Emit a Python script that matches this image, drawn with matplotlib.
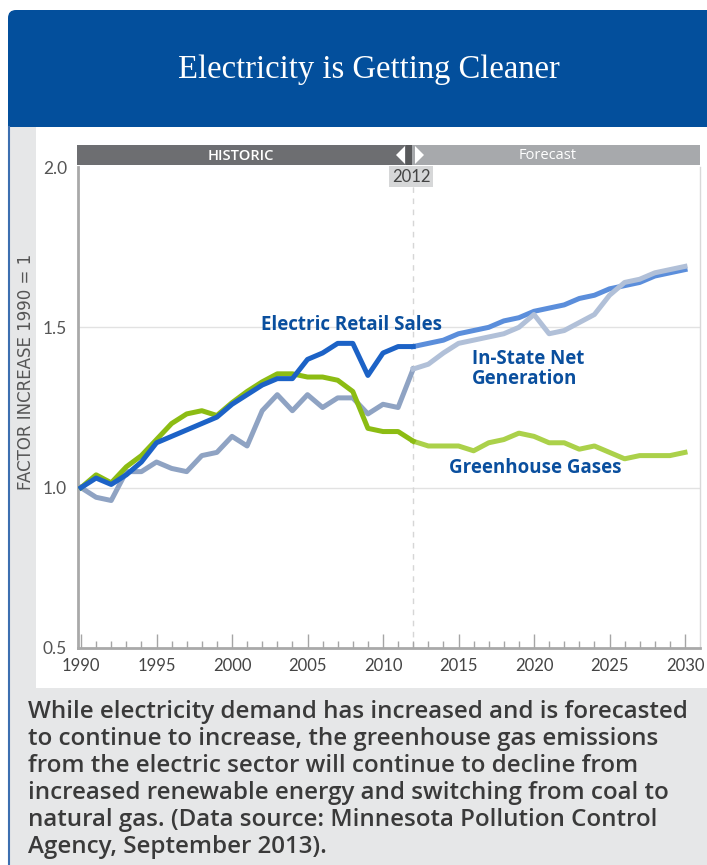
import numpy as np
import matplotlib
matplotlib.use("Agg")
import matplotlib.pyplot as plt
from matplotlib.patches import Rectangle, FancyBboxPatch, Polygon

# annual series, 1990 = 1
years = list(range(1990, 2031))
retail_sales = [1.00, 1.03, 1.01, 1.04, 1.08, 1.14, 1.16, 1.18, 1.20, 1.22,
                1.26, 1.29, 1.32, 1.34, 1.34, 1.40, 1.42, 1.45, 1.45, 1.35,
                1.42, 1.44, 1.44, 1.45, 1.46, 1.48, 1.49, 1.50, 1.52, 1.53,
                1.55, 1.56, 1.57, 1.59, 1.60, 1.62, 1.63, 1.64, 1.66, 1.67,
                1.68]
net_generation = [1.00, 0.97, 0.96, 1.05, 1.05, 1.08, 1.06, 1.05, 1.10, 1.11,
                  1.16, 1.13, 1.24, 1.29, 1.24, 1.29, 1.25, 1.28, 1.28, 1.23,
                  1.26, 1.25, 1.37, 1.385, 1.42, 1.45, 1.46, 1.47, 1.48, 1.50,
                  1.54, 1.48, 1.49, 1.515, 1.54, 1.60, 1.64, 1.65, 1.67, 1.68,
                  1.69]
greenhouse_gases = [1.00, 1.04, 1.015, 1.065, 1.10, 1.15, 1.20, 1.23, 1.24, 1.225,
                    1.265, 1.30, 1.33, 1.355, 1.355, 1.345, 1.345, 1.335, 1.30, 1.185,
                    1.175, 1.175, 1.145, 1.13, 1.13, 1.13, 1.115, 1.14, 1.15, 1.17,
                    1.16, 1.14, 1.14, 1.12, 1.13, 1.11, 1.09, 1.10, 1.10, 1.10,
                    1.11]
split_year = 2012
x_ticks = [1990, 1995, 2000, 2005, 2010, 2015, 2020, 2025, 2030]
y_ticks = [0.5, 1.0, 1.5, 2.0]

W, H = 707, 865
fig = plt.figure(figsize=(W / 100, H / 100), dpi=100)

# background layer in pixel coordinates
bg = fig.add_axes([0, 0, 1, 1], zorder=0)
bg.set_xlim(0, W)
bg.set_ylim(H, 0)
bg.axis("off")
bg.add_patch(FancyBboxPatch((8, 10), 730, 140, boxstyle="round,pad=0,rounding_size=8",
                            fc="#034f9c", ec="none"))
bg.add_patch(Rectangle((8, 127), W, H, fc="#e6e7e8", ec="none"))
bg.add_patch(Rectangle((36, 127), W, 561, fc="white", ec="none"))
bg.plot([9, 9], [127, H], color="#3d6fb0", lw=1.5)
bg.text(369, 70, "Electricity is Getting Cleaner", color="white", ha="center",
        va="center", fontsize=23.5, family="Liberation Serif")
bg.text(26, 372, "FACTOR INCREASE 1990 = 1", rotation=90, ha="center", va="center",
        color="#555555", fontsize=12)
caption = ("While electricity demand has increased and is forecasted\n"
           "to continue to increase, the greenhouse gas emissions\n"
           "from the electric sector will continue to decline from\n"
           "increased renewable energy and switching from coal to\n"
           "natural gas. (Data source: Minnesota Pollution Control\n"
           "Agency, September 2013).")
bg.text(28, 700, caption, ha="left", va="top", color="#3a3a3a", fontsize=17.4,
        family="Open Sans", weight="semibold", linespacing=1.17)

# main chart
left, right, top, bottom = 78, 700, 167, 648
ax = fig.add_axes([left / W, 1 - bottom / H, (right - left) / W, (bottom - top) / H],
                  zorder=2)
ax.set_facecolor("none")
x0, x1 = 81, 685  # pixel positions of 1990 and 2030
ppy = (x1 - x0) / 40
ax.set_xlim(1990 - (x0 - left) / ppy, 2030 + (right - x1) / ppy)
ax.set_ylim(0.5, 2.0)

k = years.index(split_year)
hist = slice(0, k + 1)
fore = slice(k, None)
lw = 3.6
ax.plot(years[hist], net_generation[hist], color="#8fa3c3", lw=lw, zorder=3)
ax.plot(years[hist], greenhouse_gases[hist], color="#8cbc13", lw=lw, zorder=4)
ax.plot(years[hist], retail_sales[hist], color="#1c62c6", lw=lw, zorder=5)
ax.plot(years[fore], greenhouse_gases[fore], color="#abd14a", lw=lw, zorder=3)
ax.plot(years[fore], retail_sales[fore], color="#5b8edb", lw=lw, zorder=4)
ax.plot(years[fore], net_generation[fore], color="#b1c0d8", lw=lw, zorder=5)

ax.axvline(split_year, color="#d6d6d6", lw=1, ls=(0, (4, 4)), zorder=1)
for yv in [1.0, 1.5]:
    ax.axhline(yv, color="#e2e2e2", lw=1, zorder=0)

lab_color = "#0a4f9e"
lab_kw = dict(color=lab_color, fontsize=13.5, weight="bold", family="Open Sans", zorder=6)
ax.text(2007.9, 1.506, "Electric Retail Sales", ha="center", va="center", **lab_kw)
ax.text(2015.9, 1.37, "In-State Net\nGeneration", ha="left", va="center",
        linespacing=1.0, **lab_kw)
ax.text(2014.4, 1.062, "Greenhouse Gases", ha="left", va="center", **lab_kw)

ax.set_xticks(x_ticks)
ax.set_xticks(years, minor=True)
ax.set_yticks(y_ticks)
ax.set_yticklabels([f"{v:.1f}" for v in y_ticks])
ax.tick_params(axis="x", which="major", direction="in", length=10, width=1,
               color="#a5a5a5", labelsize=12, labelcolor="#444444", pad=7)
ax.tick_params(axis="x", which="minor", direction="in", length=5, width=1,
               color="#a5a5a5")
ax.tick_params(axis="y", length=0, labelsize=12.5, labelcolor="#555555", pad=8)
for lbl in ax.get_xticklabels() + ax.get_yticklabels():
    lbl.set_family("Lato")
for s in ["left", "bottom"]:
    ax.spines[s].set_color("#a9a9a9")
    ax.spines[s].set_linewidth(2)
ax.spines["right"].set_color("#d9d9d9")
ax.spines["right"].set_linewidth(1)
ax.spines["top"].set_visible(False)

# period bar and 2012 marker on top
fg = fig.add_axes([0, 0, 1, 1], zorder=3)
fg.set_xlim(0, W)
fg.set_ylim(H, 0)
fg.axis("off")
fg.add_patch(Rectangle((77, 145), 335, 20, fc="#6d6e71", ec="none"))
fg.add_patch(Rectangle((412, 145), 288, 20, fc="#a7a9ac", ec="none"))
fg.add_patch(Rectangle((406, 145), 6, 20, fc="#58595b", ec="none"))
fg.add_patch(Polygon([(396, 155), (405, 146), (405, 164)], fc="white", ec="none"))
fg.add_patch(Polygon([(415, 146), (415, 164), (424, 155)], fc="white", ec="none"))
fg.text(241, 155.5, "HISTORIC", color="white", ha="center", va="center",
        fontsize=10.5, weight="semibold", family="Open Sans")
fg.text(548, 155.5, "Forecast", color="white", ha="center", va="center",
        fontsize=10.5, family="Open Sans")
fg.add_patch(Rectangle((389, 166), 44, 21, fc="#d6d7d8", ec="none"))
fg.text(411, 177, "2012", color="#444444", ha="center", va="center", fontsize=12,
        family="Lato")

fig.savefig("out.png", dpi=100)
